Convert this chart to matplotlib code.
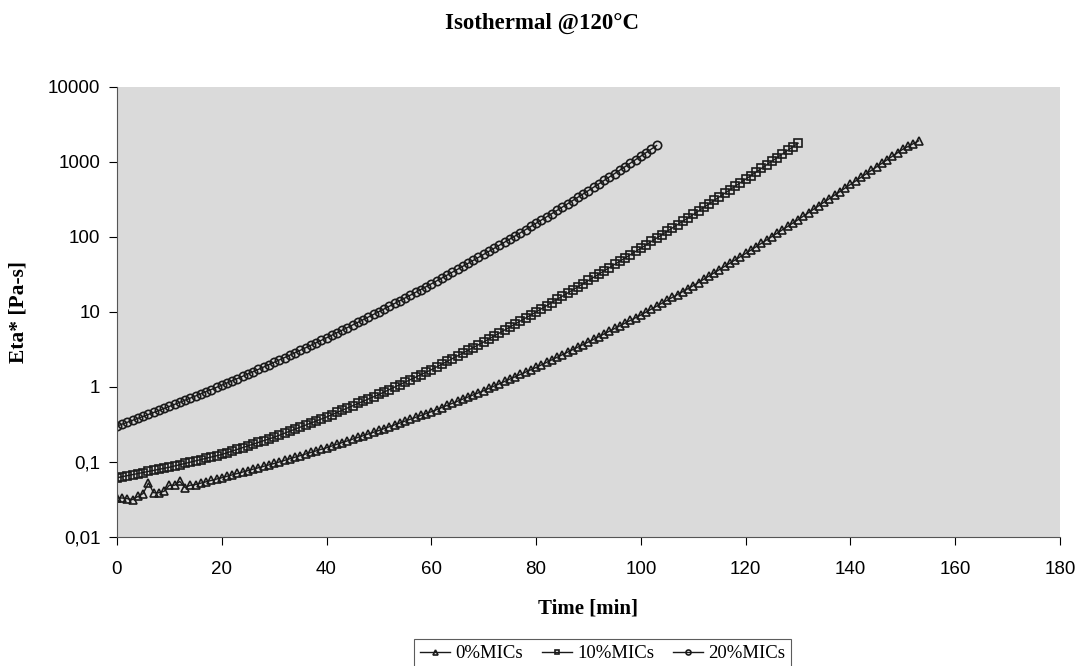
import numpy as np
import matplotlib
matplotlib.use("Agg")
import matplotlib.pyplot as plt


# -----------------------------------------
# Data (one point per minute)
# -----------------------------------------
eta_0 = [
    0.0331, 0.0331, 0.0324, 0.0316, 0.0347, 0.0380, 0.0525, 0.0389, 0.0389, 0.0407,
    0.0490, 0.0490, 0.0550, 0.0457, 0.0490, 0.0501, 0.0522, 0.0545, 0.0568, 0.0592,
    0.0617, 0.0644, 0.0673, 0.0703, 0.0735, 0.0767, 0.0802, 0.0838, 0.0875, 0.0914,
    0.0955, 0.1002, 0.1052, 0.1104, 0.1159, 0.1216, 0.1276, 0.1340, 0.1406, 0.1476,
    0.1549, 0.1633, 0.1722, 0.1816, 0.1914, 0.2018, 0.2128, 0.2244, 0.2366, 0.2495,
    0.2630, 0.2786, 0.2951, 0.3126, 0.3311, 0.3508, 0.3715, 0.3936, 0.4169, 0.4416,
    0.4677, 0.4989, 0.5321, 0.5675, 0.6053, 0.6457, 0.6887, 0.7345, 0.7834, 0.8356,
    0.8913, 0.9572, 1.028, 1.104, 1.186, 1.274, 1.368, 1.469, 1.578, 1.694,
    1.820, 1.968, 2.128, 2.301, 2.489, 2.692, 2.911, 3.148, 3.404, 3.681,
    3.981, 4.325, 4.699, 5.105, 5.546, 6.026, 6.546, 7.112, 7.727, 8.395,
    9.120, 9.977, 10.91, 11.94, 13.06, 14.29, 15.63, 17.10, 18.71, 20.46,
    22.39, 24.72, 27.29, 30.13, 33.27, 36.73, 40.55, 44.77, 49.43, 54.58,
    60.26, 66.83, 74.13, 82.22, 91.20, 101.2, 112.2, 124.5, 138.0, 153.1,
    169.8, 189.2, 210.9, 235.0, 261.8, 291.7, 325.1, 362.2, 403.6, 449.8,
    501.2, 558.5, 622.3, 693.4, 772.7, 861.0, 959.4, 1069, 1191, 1327,
    1479, 1611, 1754, 1910,
]

eta_10 = [
    0.0617, 0.0637, 0.0658, 0.0679, 0.0701, 0.0724, 0.0748, 0.0773, 0.0798, 0.0824,
    0.0851, 0.0885, 0.0920, 0.0957, 0.0995, 0.1035, 0.1076, 0.1119, 0.1164, 0.1211,
    0.1259, 0.1327, 0.1400, 0.1476, 0.1556, 0.1641, 0.1730, 0.1824, 0.1923, 0.2028,
    0.2138, 0.2275, 0.2421, 0.2576, 0.2742, 0.2917, 0.3105, 0.3304, 0.3516, 0.3741,
    0.3981, 0.4266, 0.4571, 0.4898, 0.5248, 0.5623, 0.6026, 0.6457, 0.6918, 0.7413,
    0.7943, 0.857, 0.925, 0.998, 1.076, 1.161, 1.253, 1.352, 1.459, 1.574,
    1.698, 1.849, 2.014, 2.193, 2.388, 2.600, 2.831, 3.083, 3.357, 3.656,
    3.981, 4.365, 4.786, 5.248, 5.754, 6.310, 6.918, 7.586, 8.318, 9.120,
    10.00, 11.02, 12.13, 13.37, 14.72, 16.22, 17.86, 19.68, 21.68, 23.88,
    26.30, 29.04, 32.06, 35.40, 39.08, 43.15, 47.64, 52.60, 58.08, 64.12,
    70.79, 78.52, 87.10, 96.61, 107.2, 118.9, 131.8, 146.2, 162.2, 179.9,
    199.5, 222.3, 247.7, 276.1, 307.6, 342.8, 381.9, 425.6, 474.2, 528.4,
    588.8, 657.7, 734.5, 820.4, 916.2, 1023, 1143, 1276, 1426, 1592,
    1778,
]

eta_20 = [
    0.302, 0.320, 0.339, 0.360, 0.382, 0.405, 0.430, 0.457, 0.486, 0.518,
    0.551, 0.586, 0.625, 0.667, 0.711, 0.759, 0.809, 0.865, 0.925, 0.989,
    1.057, 1.130, 1.211, 1.297, 1.390, 1.493, 1.600, 1.718, 1.845, 1.982,
    2.133, 2.294, 2.468, 2.659, 2.864, 3.087, 3.330, 3.592, 3.878, 4.188,
    4.525, 4.894, 5.293, 5.728, 6.204, 6.721, 7.284, 7.897, 8.570, 9.302,
    10.10, 10.98, 11.94, 12.98, 14.13, 15.39, 16.76, 18.27, 19.93, 21.74,
    23.73, 25.92, 28.32, 30.96, 33.87, 37.06, 40.58, 44.45, 48.72, 53.42,
    58.61, 64.35, 70.67, 77.66, 85.38, 93.90, 103.3, 113.8, 125.3, 138.1,
    152.3, 168.0, 185.5, 204.8, 226.3, 250.2, 276.8, 306.3, 339.2, 375.6,
    416.3, 461.6, 512.2, 568.4, 631.2, 701.4, 779.7, 867.4, 965.0, 1075,
    1197, 1334, 1487, 1659,
]

time_0 = np.arange(len(eta_0))    # minutes
time_10 = np.arange(len(eta_10))
time_20 = np.arange(len(eta_20))

labels = ["0%MICs", "10%MICs", "20%MICs"]
markers = ["^", "s", "o"]

x_ticks = [0, 20, 40, 60, 80, 100, 120, 140, 160, 180]
y_ticks = [0.01, 0.1, 1, 10, 100, 1000, 10000]
y_tick_labels = ["0,01", "0,1", "1", "10", "100", "1000", "10000"]


# -----------------------------------------
# Plot
# -----------------------------------------
def plot_chart():
    fig = plt.figure(figsize=(10.78, 6.66), dpi=100)
    ax = fig.add_axes([0.1085, 0.1937, 0.8748, 0.6757])
    ax.set_facecolor("#dadada")

    series = [(time_0, eta_0), (time_10, eta_10), (time_20, eta_20)]
    for (t, eta), lab, mk in zip(series, labels, markers):
        ax.plot(t, eta, color="#1a1a1a", linewidth=1.0, marker=mk,
                markersize=6, markerfacecolor="none", markeredgewidth=1.2,
                label=lab)

    ax.set_yscale("log")
    ax.set_xlim(0, 180)
    ax.set_ylim(0.01, 10000)
    ax.set_xticks(x_ticks)
    ax.set_yticks(y_ticks)
    ax.set_yticklabels(y_tick_labels)
    ax.yaxis.set_minor_locator(matplotlib.ticker.NullLocator())

    for lab in ax.get_xticklabels() + ax.get_yticklabels():
        lab.set_fontfamily("Liberation Sans")
        lab.set_fontsize(13.5)
    ax.tick_params(axis="y", direction="out", length=6, width=0.8, pad=6)
    ax.tick_params(axis="x", direction="out", length=6, width=0.8, pad=11)

    for side in ["top", "right"]:
        ax.spines[side].set_visible(False)
    for side in ["left", "bottom"]:
        ax.spines[side].set_color("#555555")
        ax.spines[side].set_linewidth(0.8)

    serif = "Liberation Serif"
    fig.text(0.503, 0.965, "Isothermal @120\u00b0C", ha="center", va="center",
             fontsize=16.5, fontweight="bold", fontfamily=serif)
    ax.set_xlabel("Time [min]", fontsize=15, fontweight="bold",
                  fontfamily=serif, labelpad=15)
    ax.set_ylabel("Eta* [Pa-s]", fontsize=15.5, fontweight="bold",
                  fontfamily=serif, labelpad=14)

    leg = fig.legend(loc="upper center", bbox_to_anchor=(0.559, 0.054),
                     ncol=3, frameon=True, fancybox=False, edgecolor="#333333",
                     prop={"family": serif, "size": 13.5}, handlelength=1.6,
                     columnspacing=1.0, handletextpad=0.3, borderpad=0.3,
                     markerscale=0.6)
    leg.get_frame().set_linewidth(0.8)

    fig.savefig("out.png", dpi=100, facecolor="white")


if __name__ == "__main__":
    plot_chart()
